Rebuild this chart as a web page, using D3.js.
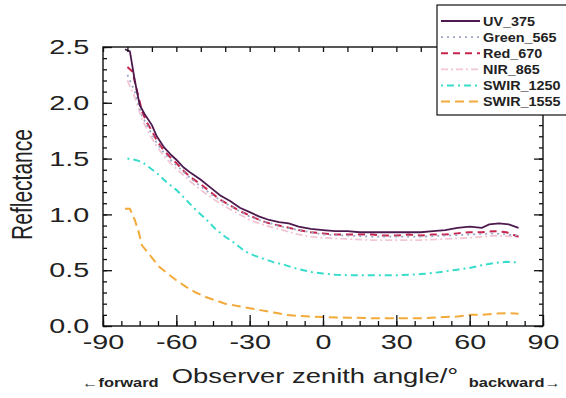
<!DOCTYPE html>
<html>
<head>
<meta charset="utf-8">
<script src="https://cdn.jsdelivr.net/npm/d3@7"></script>
<style>
  body { margin: 0; background: #fff; }
  text { font-family: "Liberation Sans", Arial, sans-serif; fill: #222; }
</style>
</head>
<body>
<div id="chart"></div>
<script>
// ... data (angle in degrees, reflectance)
const uvAngle = [-81, -79, -77, -75, -73, -70, -68, -65, -62, -60, -57, -54, -50, -46, -42, -38, -34, -30, -26, -22, -18, -14, -10, -5, 0, 5, 10, 15, 20, 25, 30, 35, 40, 45, 50, 55, 60, 65, 68, 72, 76, 80];
const uvValue = [2.48, 2.46, 2.2, 1.98, 1.9, 1.8, 1.7, 1.6, 1.53, 1.49, 1.42, 1.37, 1.31, 1.24, 1.17, 1.12, 1.06, 1.02, 0.98, 0.95, 0.93, 0.92, 0.89, 0.87, 0.86, 0.85, 0.85, 0.84, 0.84, 0.84, 0.84, 0.84, 0.84, 0.85, 0.86, 0.88, 0.89, 0.88, 0.91, 0.92, 0.91, 0.88];

const redAngle = [-80, -78, -76, -74, -72, -70, -68, -65, -62, -60, -57, -54, -50, -46, -42, -38, -34, -30, -26, -22, -18, -14, -10, -5, 0, 5, 10, 15, 20, 25, 30, 35, 40, 45, 50, 55, 60, 65, 70, 75, 80];
const redValue = [2.32, 2.28, 2.1, 1.92, 1.82, 1.75, 1.66, 1.57, 1.5, 1.46, 1.39, 1.33, 1.27, 1.2, 1.13, 1.08, 1.03, 0.99, 0.95, 0.92, 0.9, 0.88, 0.86, 0.84, 0.83, 0.82, 0.82, 0.82, 0.82, 0.81, 0.81, 0.82, 0.81, 0.82, 0.82, 0.83, 0.84, 0.84, 0.85, 0.84, 0.8];

const greenAngle = [-80, -77, -74, -71, -68, -65, -62, -58, -54, -50, -45, -40, -35, -30, -25, -20, -15, -10, -5, 0, 10, 20, 30, 40, 50, 60, 70, 80];
const greenValue = [2.25, 2.1, 1.88, 1.76, 1.64, 1.55, 1.48, 1.4, 1.32, 1.25, 1.17, 1.1, 1.04, 0.98, 0.94, 0.91, 0.88, 0.86, 0.84, 0.82, 0.81, 0.8, 0.8, 0.8, 0.81, 0.82, 0.83, 0.81];

const nirAngle = [-80, -77, -74, -71, -68, -65, -62, -58, -54, -50, -45, -40, -35, -30, -25, -20, -15, -10, -5, 0, 10, 20, 30, 40, 50, 60, 70, 80];
const nirValue = [2.2, 2.05, 1.85, 1.72, 1.61, 1.52, 1.45, 1.37, 1.29, 1.22, 1.14, 1.07, 1.01, 0.95, 0.91, 0.88, 0.85, 0.82, 0.8, 0.79, 0.78, 0.77, 0.77, 0.77, 0.78, 0.79, 0.81, 0.8];

const swir1250Angle = [-80, -77, -74, -71, -68, -64, -60, -56, -52, -48, -44, -40, -36, -32, -28, -24, -20, -16, -12, -8, -4, 0, 5, 10, 15, 20, 25, 30, 35, 40, 45, 50, 55, 60, 65, 70, 75, 80];
const swir1250Value = [1.5, 1.49, 1.47, 1.42, 1.37, 1.29, 1.22, 1.13, 1.04, 0.96, 0.87, 0.8, 0.74, 0.67, 0.63, 0.6, 0.57, 0.55, 0.52, 0.5, 0.48, 0.47, 0.46, 0.455, 0.455, 0.455, 0.455, 0.455, 0.46, 0.465, 0.475, 0.49, 0.505, 0.52, 0.545, 0.565, 0.575, 0.57];

const swir1555Angle = [-81, -79, -77, -75.5, -74, -71, -67, -63, -60, -56, -52, -48, -44, -40, -35, -30, -25, -20, -15, -10, -5, 0, 10, 20, 30, 40, 50, 55, 60, 65, 70, 75, 80];
const swir1555Value = [1.05, 1.05, 0.95, 0.85, 0.72, 0.64, 0.53, 0.46, 0.41, 0.35, 0.3, 0.26, 0.23, 0.2, 0.18, 0.16, 0.14, 0.12, 0.1, 0.09, 0.085, 0.08, 0.075, 0.07, 0.07, 0.07, 0.08, 0.085, 0.1, 0.1, 0.11, 0.115, 0.11];

const seriesNames = ['UV_375', 'Green_565', 'Red_670', 'NIR_865', 'SWIR_1250', 'SWIR_1555'];
const xTicks = [-90, -60, -30, 0, 30, 60, 90];
const yTicks = [0.0, 0.5, 1.0, 1.5, 2.0, 2.5];

const series = [
    { name: seriesNames[0], a: uvAngle, v: uvValue, color: '#4d1a4f', dash: null, w: 1.8 },
    { name: seriesNames[1], a: greenAngle, v: greenValue, color: '#9aa6c4', dash: '2,4', w: 1.8 },
    { name: seriesNames[2], a: redAngle, v: redValue, color: '#c8254e', dash: '7,5', w: 2 },
    { name: seriesNames[3], a: nirAngle, v: nirValue, color: '#f2c6d4', dash: '7,3,2,3', w: 1.8 },
    { name: seriesNames[4], a: swir1250Angle, v: swir1250Value, color: '#38dccb', dash: '2,4,7,4', w: 2 },
    { name: seriesNames[5], a: swir1555Angle, v: swir1555Value, color: '#f2aa3a', dash: '9,5', w: 2 }
];

// text in the figure is stretched sideways
const SX = 1.37;

const margin = { top: 47, right: 23, bottom: 72, left: 103 };
const W = 566, H = 398;
const width = W - margin.left - margin.right;
const height = H - margin.top - margin.bottom;

const x = d3.scaleLinear().domain([-90, 90]).range([0, width]);
const y = d3.scaleLinear().domain([0, 2.5]).range([height, 0]);

const svg = d3.select('#chart').append('svg')
    .attr('width', W)
    .attr('height', H)
    .append('g')
    .attr('transform', 'translate(' + margin.left + ',' + margin.top + ')');

// ... lines
const line = d3.line()
    .x(function (d) { return x(d[0]); })
    .y(function (d) { return y(d[1]); });

series.slice().reverse().forEach(function (s) {
    svg.append('path')
        .datum(s.a.map(function (a, i) { return [a, s.v[i]]; }))
        .attr('fill', 'none')
        .attr('stroke', s.color)
        .attr('stroke-width', s.w)
        .attr('stroke-dasharray', s.dash)
        .attr('d', line);
});

// ... axes (ticks point inwards)
function styleAxis(g) {
    g.select('.domain').remove();
    g.selectAll('line').attr('stroke', '#111').attr('stroke-width', 1.3);
    g.selectAll('text')
        .style('font-size', '21px')
        .attr('fill', '#222');
}

svg.append('g')
    .call(d3.axisLeft(y).ticks(25).tickSize(-4).tickFormat(''))
    .call(styleAxis);
svg.append('g')
    .call(d3.axisLeft(y).tickValues(yTicks).tickSize(-9).tickPadding(10).tickFormat(function (d) { return d.toFixed(1); }))
    .call(styleAxis)
    .selectAll('text').attr('transform', 'scale(' + SX + ',1)');

svg.append('g')
    .attr('transform', 'translate(' + width + ',0)')
    .call(d3.axisRight(y).ticks(25).tickSize(-4).tickFormat(''))
    .call(styleAxis);
svg.append('g')
    .attr('transform', 'translate(' + width + ',0)')
    .call(d3.axisRight(y).tickValues(yTicks).tickSize(-9).tickFormat(''))
    .call(styleAxis);

svg.append('g')
    .attr('transform', 'translate(0,' + height + ')')
    .call(d3.axisBottom(x).tickValues(d3.range(-90, 90.1, 7.5)).tickSize(-5).tickFormat(''))
    .call(styleAxis);
svg.append('g')
    .attr('transform', 'translate(0,' + height + ')')
    .call(d3.axisBottom(x).tickValues(xTicks).tickSize(-11).tickPadding(8).tickFormat(function (d) { return String(d); }))
    .call(styleAxis)
    .selectAll('text').attr('transform', 'scale(' + SX + ',1)');

svg.append('g')
    .call(d3.axisTop(x).tickValues(d3.range(-90, 90.1, 10)).tickSize(-5).tickFormat(''))
    .call(styleAxis);

// ... frame
svg.append('rect')
    .attr('width', width)
    .attr('height', height)
    .attr('fill', 'none')
    .attr('stroke', '#111')
    .attr('stroke-width', 1.4);

// ... labels
function stretchedText(px, py, str, size, anchor, rot) {
    return svg.append('text')
        .attr('transform', 'translate(' + px + ',' + py + ') scale(' + SX + ',1)' + (rot ? ' rotate(' + rot + ')' : ''))
        .attr('text-anchor', anchor)
        .style('font-size', size + 'px')
        .text(str);
}

stretchedText(-71, height / 2 - 2, 'Reflectance', 21, 'middle', -90);
stretchedText(width / 2 - 8, height + 57, 'Observer zenith angle/\u00b0', 20, 'middle');
stretchedText(-21, height + 61, '\u2190forward', 12, 'start').style('font-weight', 'bold');
stretchedText(width + 18, height + 61, 'backward\u2192', 12, 'end').style('font-weight', 'bold');

// ... legend
const lx = 437 - margin.left, ly = 5 - margin.top;
svg.append('rect')
    .attr('x', lx)
    .attr('y', ly)
    .attr('width', 140)
    .attr('height', 110)
    .attr('fill', '#fff')
    .attr('stroke', '#111')
    .attr('stroke-width', 1.2);

series.forEach(function (s, i) {
    const ry = ly + 16 + i * 16.1;
    svg.append('line')
        .attr('x1', lx + 4)
        .attr('x2', lx + 43)
        .attr('y1', ry)
        .attr('y2', ry)
        .attr('stroke', s.color)
        .attr('stroke-width', s.w)
        .attr('stroke-dasharray', s.dash);
    svg.append('text')
        .attr('transform', 'translate(' + (lx + 46) + ',' + (ry + 4.5) + ') scale(1.2,1)')
        .style('font-size', '12px')
        .style('font-weight', 'bold')
        .attr('fill', '#333')
        .text(s.name);
});
</script>
</body>
</html>
